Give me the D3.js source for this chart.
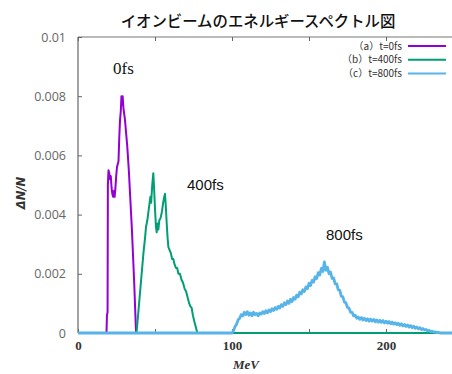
<!DOCTYPE html>
<html><head><meta charset="utf-8">
<script src="https://cdn.jsdelivr.net/npm/d3@7"></script>
<style>body{margin:0;background:#fff;}svg{display:block;}</style>
</head><body>
<script>
const title = "イオンビームのエネルギースペクトル図";
const seriesNames = ["（a）t=0fs", "（b）t=400fs", "（c）t=800fs"];
const seriesColors = ["#9400d3", "#009e73", "#56b4e9"];
const peakLabels = ["0fs", "400fs", "800fs"];
const yTicks = [0, 0.002, 0.004, 0.006, 0.008, 0.01];
const yTickLabels = ["0", "0.002", "0.004", "0.006", "0.008", "0.01"];
const xTicks = [0, 50, 100, 150, 200, 250];
const xTickLabels = {0: "0", 100: "100", 200: "200"};

const purpleE = [0,18.5,18.8,19.2,19.4,19.8,20.3,20.8,21.3,21.8,22.3,22.8,23.3,23.8,24.3,24.8,25.3,25.8,26.3,26.8,27.3,27.8,28.2,28.6,29.0,29.5,30.0,30.5,31.0,31.5,32.0,32.5,33.0,33.5,34.0,34.5,35.0,35.5,36.0,36.5,37.2,37.7,250];
const purpleV = [0,0,0.0006,0.0007,0.0050,0.0055,0.0054,0.0052,0.0053,0.0049,0.0047,0.0046,0.0048,0.0046,0.0049,0.0053,0.0056,0.0057,0.0058,0.0066,0.0072,0.0075,0.0080,0.0077,0.0080,0.0076,0.0074,0.0072,0.0069,0.0066,0.0063,0.0059,0.0055,0.0050,0.0045,0.0040,0.0035,0.0029,0.0023,0.0017,0.0007,0,0];

const greenE = [0,38.0,39.5,41.0,42.5,43.5,44.2,45.0,46.0,47.0,47.5,48.2,48.9,49.4,50.0,50.6,51.1,51.6,52.2,52.8,53.7,54.5,55.3,56.0,56.5,57.0,57.6,58.2,58.7,59.5,60.3,61.1,61.9,62.8,63.6,64.4,65.2,66.2,67.2,68.2,69.2,70.2,71.2,72.2,73.0,73.8,74.6,75.5,76.5,77.5,250];
const greenV = [0,0,0.0009,0.0018,0.0027,0.0032,0.0036,0.0038,0.0042,0.0046,0.0044,0.0050,0.0054,0.0049,0.0042,0.0036,0.0034,0.0037,0.0035,0.0038,0.0039,0.0041,0.0044,0.0046,0.0047,0.0043,0.0037,0.0032,0.0029,0.0028,0.0027,0.0025,0.0025,0.0023,0.0022,0.0022,0.0020,0.0020,0.0018,0.0017,0.0015,0.0014,0.0012,0.0010,0.0009,0.00085,0.0006,0.0004,0.0002,0,0];

const blueE = [0,100,101,102,103,104,105,106,107,108,109,110,111,112,113,114,115,116,117,118,119,120,121,122,123,124,125,126,127,128,129,130,131,132,133,134,135,136,137,138,139,140,141,142,143,144,145,146,147,148,149,150,151,152,153,154,155,156,157,158,159,160,161,162,163,164,165,166,167,168,169,170,171,172,173,174,175,176,177,178,179,180,181,182,183,184,185,186,187,188,189,190,191,192,193,194,195,196,197,198,199,200,201,202,203,204,205,206,207,208,209,210,211,212,213,214,215,216,217,218,219,220,221,222,223,224,225,226,227,228,229,230,231,232,233,234,235,250];
const blueV = [0,0,0.00008,0.00022,0.00030,0.00045,0.00050,0.00062,0.00058,0.00070,0.00062,0.00072,0.00060,0.00068,0.00058,0.00070,0.00062,0.00066,0.00058,0.00068,0.00064,0.00072,0.00066,0.00075,0.00068,0.00078,0.00072,0.00082,0.00076,0.00086,0.00080,0.00090,0.00084,0.00096,0.00090,0.00102,0.00096,0.00108,0.00100,0.00114,0.00106,0.00120,0.00114,0.00128,0.00122,0.00138,0.00132,0.00146,0.00140,0.00156,0.00150,0.00168,0.00160,0.00178,0.00172,0.00190,0.00184,0.00204,0.00196,0.00218,0.00208,0.00240,0.00212,0.00222,0.00200,0.00206,0.00184,0.00186,0.00166,0.00166,0.00146,0.00144,0.00124,0.00122,0.00104,0.00102,0.00086,0.00084,0.00070,0.00070,0.00058,0.00060,0.00050,0.00054,0.00046,0.00052,0.00044,0.00050,0.00042,0.00048,0.00040,0.00047,0.00040,0.00046,0.00038,0.00044,0.00037,0.00043,0.00036,0.00042,0.00034,0.00040,0.00033,0.00039,0.00031,0.00037,0.00030,0.00035,0.00028,0.00033,0.00026,0.00031,0.00024,0.00029,0.00022,0.00027,0.00020,0.00025,0.00018,0.00023,0.00016,0.00020,0.00014,0.00018,0.00012,0.00015,0.00010,0.00012,0.00007,0.00009,0.00005,0.00006,0.00003,0.00004,0.00001,0.00002,0,0];

const W = 452, H = 374;
const svg = d3.select("body").append("svg").attr("width", W).attr("height", H);
const x = d3.scaleLinear().domain([0, 250]).range([78, 463]);
const y = d3.scaleLinear().domain([0, 0.01]).range([333, 37]);

// title
svg.append("text").attr("x", 258).attr("y", 27).attr("text-anchor", "middle")
  .attr("font-family", "'Noto Sans CJK JP', sans-serif").attr("font-size", 15.4).attr("font-weight", 500).attr("fill", "#111")
  .text(title);

// frame
svg.append("line").attr("x1", x(0)).attr("x2", x(0)).attr("y1", y(0)).attr("y2", y(0.01)).attr("stroke", "#666").attr("stroke-width", 1.2);
svg.append("line").attr("x1", x(0)).attr("x2", x(250)).attr("y1", y(0.01)).attr("y2", y(0.01)).attr("stroke", "#777").attr("stroke-width", 1.2);
svg.append("line").attr("x1", x(0)).attr("x2", x(250)).attr("y1", y(0)).attr("y2", y(0)).attr("stroke", "#6a7f8c").attr("stroke-width", 1.2);

// y axis
const yAxis = d3.axisLeft(y).tickValues(yTicks).tickSize(-4).tickPadding(12)
  .tickFormat((d, i) => yTickLabels[i]);
const gy = svg.append("g").attr("transform", `translate(${x(0)},0)`).call(yAxis);
gy.select(".domain").remove();
gy.selectAll(".tick line").attr("stroke", "#666");
gy.selectAll(".tick text").attr("font-family", "'Open Sans', 'DejaVu Sans', sans-serif").attr("font-size", 12.5).attr("fill", "#666");

// x axis bottom
const xAxis = d3.axisBottom(x).tickValues(xTicks).tickSize(-4).tickPadding(8)
  .tickFormat(d => xTickLabels[d] || "");
const gx = svg.append("g").attr("transform", `translate(0,${y(0)})`).call(xAxis);
gx.select(".domain").remove();
gx.selectAll(".tick line").attr("stroke", "#666");
gx.selectAll(".tick text").attr("font-family", "'Liberation Serif', 'DejaVu Serif', serif").attr("font-weight", "bold").attr("font-size", 13).attr("fill", "#333");

// x axis top (ticks only)
const gxt = svg.append("g").attr("transform", `translate(0,${y(0.01)})`).call(d3.axisTop(x).tickValues(xTicks).tickSize(-4).tickFormat(""));
gxt.select(".domain").remove();
gxt.selectAll(".tick line").attr("stroke", "#666");

// axis titles
svg.append("text").attr("x", 246).attr("y", 369).attr("text-anchor", "middle")
  .attr("font-family", "'Liberation Serif', 'DejaVu Serif', serif").attr("font-style", "italic").attr("font-weight", "bold")
  .attr("font-size", 13).attr("fill", "#333").text("MeV");
svg.append("text").attr("transform", "translate(25,193) rotate(-90)").attr("text-anchor", "middle")
  .attr("font-family", "'DejaVu Sans', sans-serif").attr("font-style", "italic").attr("font-weight", "bold")
  .attr("font-size", 11.5).attr("fill", "#333").text("ΔN/N");

// series
const line = d3.line().x(d => x(d[0])).y(d => y(d[1]));
const series = [
  {E: purpleE, V: purpleV, w: 2},
  {E: greenE, V: greenV, w: 2},
  {E: blueE, V: blueV, w: 2.8}
];
series.forEach((s, i) => {
  const pts = s.E.map((e, j) => [e, s.V[j]]);
  svg.append("path").datum(pts).attr("d", line).attr("fill", "none")
    .attr("stroke", seriesColors[i]).attr("stroke-width", s.w).attr("stroke-linejoin", "round");
});

// legend
seriesNames.forEach((n, i) => {
  const ly = 46 + i * 13.7;
  svg.append("text").attr("x", 402).attr("y", ly + 3.5).attr("text-anchor", "end")
    .attr("font-family", "'Noto Sans CJK JP', sans-serif").attr("font-size", 10).attr("fill", "#333").text(n);
  svg.append("line").attr("x1", 408).attr("x2", 446).attr("y1", ly).attr("y2", ly)
    .attr("stroke", seriesColors[i]).attr("stroke-width", 2);
});

// peak labels
svg.append("text").attr("x", 113).attr("y", 74).attr("font-family", "'Liberation Serif', 'DejaVu Serif', serif").attr("font-size", 17).attr("fill", "#111").text(peakLabels[0]);
svg.append("text").attr("x", 187).attr("y", 190).attr("font-family", "'Liberation Sans', sans-serif").attr("font-size", 15).attr("fill", "#111").text(peakLabels[1]);
svg.append("text").attr("x", 326).attr("y", 240).attr("font-family", "'Liberation Sans', sans-serif").attr("font-size", 15).attr("fill", "#111").text(peakLabels[2]);
</script>
</body></html>
